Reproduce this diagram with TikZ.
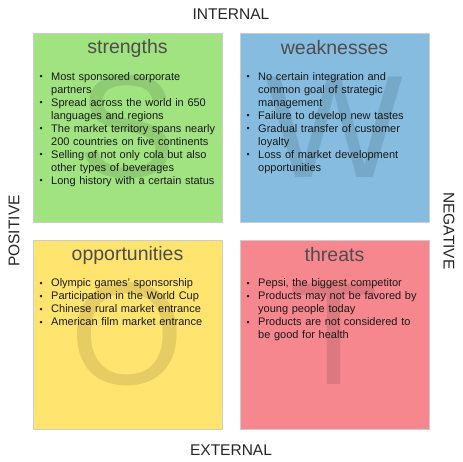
\documentclass[tikz,border=0pt]{standalone}
\usepackage{fontspec}
\setmainfont{Liberation Sans}
\definecolor{sgreen}{HTML}{A1E281}
\definecolor{sgreenD}{HTML}{8FCB72}
\definecolor{wblue}{HTML}{86BCDF}
\definecolor{wblueD}{HTML}{76A8C7}
\definecolor{oyel}{HTML}{FFE470}
\definecolor{oyelD}{HTML}{E5CC63}
\definecolor{tpink}{HTML}{F7878F}
\definecolor{tpinkD}{HTML}{DC7980}
\definecolor{titlegray}{HTML}{4D4D4D}
\definecolor{boxline}{HTML}{CCCCCC}
\newcommand\itm[1]{\par\hangindent=13pt\hangafter=1\noindent\makebox[13pt][l]{\kern1.5pt\raisebox{0.5pt}{\scalebox{0.8}{\textbullet}}}#1\par}
\tikzset{
  quad/.style={draw=boxline, line width=0.8pt, minimum width=189pt, minimum height=189pt, inner sep=0pt},
  bigletter/.style={font=\fontsize{146}{146}\selectfont, inner sep=0pt},
  qtitle/.style={font=\fontsize{19.5}{22}\selectfont, text=titlegray, inner sep=0pt},
  qlist/.style={font=\fontsize{11}{13}\selectfont, text width=185pt, align=left, inner sep=0pt, anchor=north west, text=black!90},
  side/.style={font=\fontsize{15.5}{18}\selectfont, text=black!85, inner sep=0pt}
}
\begin{document}
\begin{tikzpicture}[x=1pt,y=-1pt]
\useasboundingbox (0,0) rectangle (463,462);
\fill[white] (0,0) rectangle (463,462);
% boxes
\node[quad, fill=sgreen] (S) at (127.5,127.5) {};
\node[quad, fill=wblue] (W) at (334.5,127.5) {};
\node[quad, fill=oyel] (O) at (127.5,334.5) {};
\node[quad, fill=tpink] (T) at (334.5,334.5) {};
% big letters
\node[bigletter, text=sgreenD] (Sl) at (S.center) {S};
\node[bigletter, text=wblueD] (Wl) at (W.center) {W};
\node[bigletter, text=oyelD] (Ol) at (O.center) {O};
\node[bigletter, text=tpinkD] (Tl) at (T.center) {T};
% titles
\node[qtitle] (St) at (127.5,48) {strengths};
\node[qtitle] (Wt) at (334.5,48) {weaknesses};
\node[qtitle] (Ot) at (127.5,255) {opportunities};
\node[qtitle] (Tt) at (334.5,255) {threats};
% lists
\node[qlist] (Sx) at (38,67) {%
\itm{Most sponsored corporate\newline partners}%
\itm{Spread across the world in 650\newline languages and regions}%
\itm{The market territory spans nearly\newline 200 countries on five continents}%
\itm{Selling of not only cola but also\newline other types of beverages}%
\itm{Long history with a certain status}};
\node[qlist] (Wx) at (245,67) {%
\itm{No certain integration and\newline common goal of strategic\newline management}%
\itm{Failure to develop new tastes}%
\itm{Gradual transfer of customer\newline loyalty}%
\itm{Loss of market development\newline opportunities}};
\node[qlist] (Ox) at (38,273.5) {%
\itm{Olympic games' sponsorship}%
\itm{Participation in the World Cup}%
\itm{Chinese rural market entrance}%
\itm{American film market entrance}};
\node[qlist] (Tx) at (245,273.5) {%
\itm{Pepsi, the biggest competitor}%
\itm{Products may not be favored by\newline young people today}%
\itm{Products are not considered to\newline be good for health}};
% side labels
\node[side] (int) at (231,14) {INTERNAL};
\node[side] (ext) at (231,450) {EXTERNAL};
\node[side, rotate=90] (pos) at (14,231) {POSITIVE};
\node[side, rotate=-90] (neg) at (449,231) {NEGATIVE};
\end{tikzpicture}
\end{document}
